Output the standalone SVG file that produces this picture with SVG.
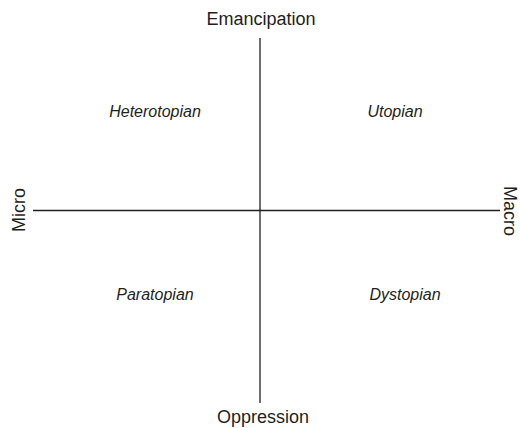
<svg xmlns="http://www.w3.org/2000/svg" width="520" height="428" viewBox="0 0 520 428">
<style>
text{font-family:"Liberation Sans",Arial,sans-serif;font-size:16px;fill:#231f20;text-anchor:middle}
.a{font-size:18px}
.q{font-style:italic}
.ax{stroke:#231f20;stroke-width:1.3;fill:none}
</style>
<rect width="520" height="428" fill="#fff"/>
<g id="connectors">
<line class="ax" x1="260" y1="38" x2="260" y2="403"/>
<line class="ax" x1="33" y1="210.5" x2="500" y2="210.5"/>
</g>
<g id="emancipation"><text class="a" x="261" y="25">Emancipation</text></g>
<g id="oppression"><text class="a" x="263" y="423">Oppression</text></g>
<g id="micro"><text class="a" transform="translate(25,210) rotate(-90)">Micro</text></g>
<g id="macro"><text class="a" transform="translate(504,211) rotate(90)">Macro</text></g>
<g id="heterotopian"><text class="q" x="155" y="117">Heterotopian</text></g>
<g id="utopian"><text class="q" x="395" y="117">Utopian</text></g>
<g id="paratopian"><text class="q" x="155" y="300">Paratopian</text></g>
<g id="dystopian"><text class="q" x="405" y="300">Dystopian</text></g>
</svg>
